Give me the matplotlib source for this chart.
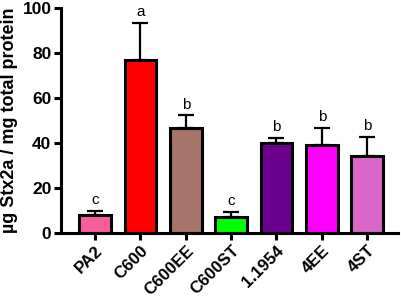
import numpy as np
import matplotlib.pyplot as plt

plt.rcParams['font.family'] = ['Liberation Sans', 'DejaVu Sans']

strains = ["PA2", "C600", "C600EE", "C600ST", "1.1954", "4EE", "4ST"]
means = [8, 77, 46.8, 7, 39.8, 39.3, 34.3]
errors = [2, 16.5, 5.5, 2.5, 2.5, 7.5, 8.5]
letters = ["c", "a", "b", "c", "b", "b", "b"]
colors = ["#FA5C9E", "#FF0000", "#A67468", "#00FF00", "#6C008E", "#FF00FF", "#D966C8"]

fig = plt.figure(figsize=(4.02, 2.98), dpi=100)
ax = fig.add_axes([0.152, 0.218, 0.838, 0.755])

x = np.arange(len(strains))
lower = np.zeros(len(strains))
ax.errorbar(x, means, yerr=[lower, errors], fmt='none', ecolor='black',
            elinewidth=1.6, capsize=5.5, capthick=1.6, zorder=1)
ax.bar(x, means, width=0.7, color=colors, edgecolor='black', linewidth=2.2, zorder=2)

# significance letters above the error bars
for xi, m, e, lab in zip(x, means, errors, letters):
    ax.text(xi, m + e + 1.5, lab, ha='center', va='bottom', fontsize=11)

ax.set_ylim(0, 100)
ax.set_xlim(-0.75, len(strains) - 1 + 0.68)
ax.set_yticks([0, 20, 40, 60, 80, 100])
ax.set_xticks(x)
ax.set_xticklabels(strains, rotation=45, ha='right', rotation_mode='anchor',
                   fontsize=12.2, fontweight='bold')
for t in ax.get_yticklabels():
    t.set_fontsize(12.5)
    t.set_fontweight('bold')
ax.set_ylabel("µg Stx2a / mg total protein", fontsize=13, fontweight='bold', labelpad=3)

ax.spines['top'].set_visible(False)
ax.spines['right'].set_visible(False)
ax.spines['left'].set_linewidth(2.2)
ax.spines['bottom'].set_linewidth(2.2)
ax.tick_params(axis='y', width=2.2, length=5, direction='out', pad=2)
ax.tick_params(axis='x', width=2.2, length=5, direction='out', pad=2)

fig.savefig("out.png", dpi=100)
